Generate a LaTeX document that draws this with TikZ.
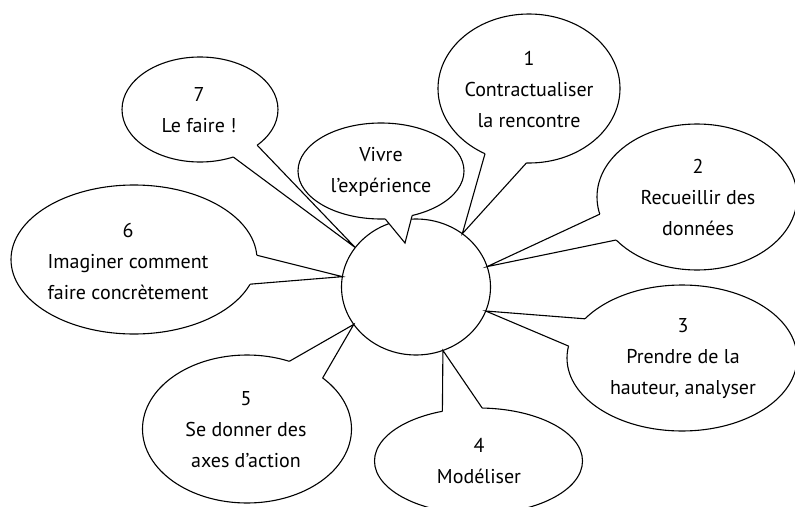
\documentclass[tikz,border=0pt]{standalone}
\usepackage{fontspec}
\setmainfont{PT Sans}
\usetikzlibrary{shapes.geometric,calc}
\tikzset{
  bubble/.style={ellipse, draw, fill=white, inner sep=0pt, outer sep=0pt, line width=1.1pt},
  btext/.style={align=center, font=\fontsize{20}{31}\selectfont, inner sep=0pt},
  tailline/.style={line width=1.1pt, line join=miter},
}
% a speech-bubble tail: bubble node, first base angle, tip, second base angle
\newcommand\bubbletail[4]{%
  \fill[white] ($(#1.#2)!3pt!(#1.center)$) -- (#1.#2) -- (#3) -- (#1.#4) -- ($(#1.#4)!3pt!(#1.center)$) -- cycle;
  \draw[tailline] (#1.#2) -- (#3) -- (#1.#4);}
\begin{document}
\begin{tikzpicture}[x=1pt,y=-1pt]
\useasboundingbox (0,0) rectangle (795,506);

% central circle
\node[bubble, minimum width=149pt, minimum height=136pt] (c) at (416,287) {};

% numbered steps
\node[bubble, minimum width=182pt, minimum height=149pt] (b1) at (529,88.5) {};
\bubbletail{b1}{236}{c.49}{268}
\node[bubble, minimum width=200pt, minimum height=146pt] (b2) at (697,197) {};
\bubbletail{b2}{190}{c.16}{208}
\node[bubble, minimum width=230pt, minimum height=146pt] (b3) at (682,358) {};
\bubbletail{b3}{158}{c.-19}{174}
\node[bubble, minimum width=208pt, minimum height=106pt] (b4) at (478.5,461) {};
\bubbletail{b4}{126}{c.-67}{86}
\node[bubble, minimum width=209pt, minimum height=148pt] (b5) at (247,429) {};
\bubbletail{b5}{58}{c.-149}{34}
\node[bubble, minimum width=246pt, minimum height=149pt] (b6) at (134,259.5) {};
\bubbletail{b6}{2}{c.172}{-12}
\node[bubble, minimum width=156pt, minimum height=105pt] (b7) at (200,109.5) {};
\bubbletail{b7}{-32}{c.147}{-55}

% experience bubble, its tail reaching into the circle
\node[bubble, minimum width=166pt, minimum height=96pt] (v) at (381,171) {};
\coordinate (vtip) at (405,243);
\bubbletail{v}{-85}{vtip}{-55}

% texts
\node[btext] (t1) at (529,89) {1\\Contractualiser\\la rencontre};
\node[btext] (t2) at (698,197) {2\\Recueillir des\\données};
\node[btext] (t3) at (683,359) {3\\Prendre de la\\hauteur, analyser};
\node[btext] (t4) at (479,461) {4\\Modéliser};
\node[btext] (t5) at (246,430) {5\\Se donner des\\axes d’action};
\node[btext] (t6) at (128,261) {6\\Imaginer comment\\faire concrètement};
\node[btext] (t7) at (199,110) {7\\Le faire !};
\node[btext] (tv) at (381,172) {Vivre\\l’expérience};
\end{tikzpicture}
\end{document}
